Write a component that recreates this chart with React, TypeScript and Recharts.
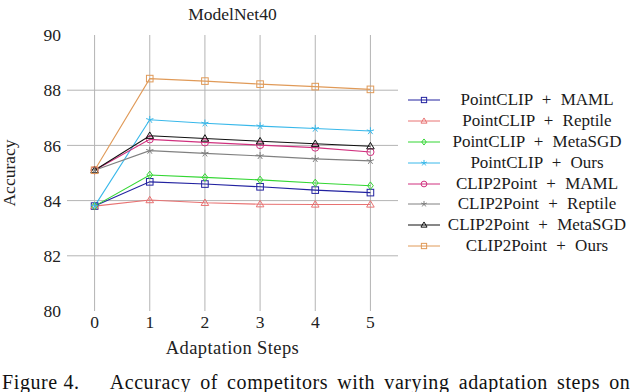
import React from 'react';
import { LineChart, Line, XAxis, YAxis, CartesianGrid } from 'recharts';

const steps = [0, 1, 2, 3, 4, 5];
const xTicks = [0, 1, 2, 3, 4, 5];
const yTicks = [80, 82, 84, 86, 88, 90];
const gridYValues = [82, 84, 86, 88];

const pointclipMaml = [83.8, 84.68, 84.6, 84.5, 84.38, 84.29];
const pointclipReptile = [83.8, 84.02, 83.92, 83.87, 83.86, 83.86];
const pointclipMetaSGD = [83.8, 84.93, 84.84, 84.75, 84.64, 84.54];
const pointclipOurs = [83.8, 86.93, 86.8, 86.7, 86.61, 86.52];
const clip2pointMaml = [85.1, 86.22, 86.11, 86.01, 85.92, 85.76];
const clip2pointReptile = [85.1, 85.81, 85.71, 85.62, 85.51, 85.44];
const clip2pointMetaSGD = [85.1, 86.35, 86.25, 86.15, 86.06, 85.97];
const clip2pointOurs = [85.1, 88.42, 88.33, 88.22, 88.13, 88.03];

const seriesNames = [
  'PointCLIP + MAML',
  'PointCLIP + Reptile',
  'PointCLIP + MetaSGD',
  'PointCLIP + Ours',
  'CLIP2Point + MAML',
  'CLIP2Point + Reptile',
  'CLIP2Point + MetaSGD',
  'CLIP2Point + Ours',
];
const seriesValues = [
  pointclipMaml,
  pointclipReptile,
  pointclipMetaSGD,
  pointclipOurs,
  clip2pointMaml,
  clip2pointReptile,
  clip2pointMetaSGD,
  clip2pointOurs,
];

type MarkerKind = 'square' | 'triangle' | 'diamond' | 'star' | 'circle';
const seriesStyle: { color: string; marker: MarkerKind }[] = [
  { color: '#2222a0', marker: 'square' },
  { color: '#e87272', marker: 'triangle' },
  { color: '#33d633', marker: 'diamond' },
  { color: '#38b8ea', marker: 'star' },
  { color: '#d0307e', marker: 'circle' },
  { color: '#808080', marker: 'star' },
  { color: '#111111', marker: 'triangle' },
  { color: '#e09a58', marker: 'square' },
];

const data = steps.map((s, i) => {
  const row: Record<string, number> = { step: s };
  seriesValues.forEach((vals, k) => {
    row['s' + k] = vals[i];
  });
  return row;
});

const FONT = '"Liberation Serif", "Times New Roman", serif';

function Marker({ kind, cx, cy, color, scale = 1 }: { kind: MarkerKind; cx: number; cy: number; color: string; scale?: number }) {
  const r = 3.3 * scale;
  const common = { fill: 'none', stroke: color, strokeWidth: 1 };
  if (kind === 'square') {
    return <rect x={cx - r} y={cy - r} width={2 * r} height={2 * r} {...common} />;
  }
  if (kind === 'triangle') {
    const h = 3.8 * scale;
    return <path d={`M${cx},${cy - h} L${cx + h},${cy + h * 0.7} L${cx - h},${cy + h * 0.7} Z`} {...common} />;
  }
  if (kind === 'diamond') {
    const h = 3.8 * scale;
    return <path d={`M${cx},${cy - h} L${cx + h * 0.75},${cy} L${cx},${cy + h} L${cx - h * 0.75},${cy} Z`} {...common} />;
  }
  if (kind === 'circle') {
    return <circle cx={cx} cy={cy} r={3.6 * scale} {...common} />;
  }
  const arms: string[] = [];
  for (let a = 0; a < 5; a++) {
    const ang = (-90 + a * 72) * (Math.PI / 180);
    arms.push(`M${cx},${cy} L${cx + Math.cos(ang) * 3.8 * scale},${cy + Math.sin(ang) * 3.8 * scale}`);
  }
  return <path d={arms.join(' ')} {...common} />;
}

function LegendBox() {
  return (
    <div
      style={{
        position: 'absolute',
        left: 400,
        top: 90,
        width: 240,
        fontFamily: FONT,
        fontSize: 17,
        color: '#1a1a1a',
      }}
    >
      {seriesNames.map((name, k) => (
        <div key={name} style={{ display: 'flex', alignItems: 'center', height: 20.8 }}>
          <svg width={42} height={20} style={{ flex: 'none' }}>
            <line x1={8} y1={10} x2={40} y2={10} stroke={seriesStyle[k].color} strokeWidth={1} />
            <Marker kind={seriesStyle[k].marker} cx={24} cy={10} color={seriesStyle[k].color} scale={0.8} />
          </svg>
          <div style={{ width: 190, textAlign: 'center', wordSpacing: 5, whiteSpace: 'nowrap' }}>{name}</div>
        </div>
      ))}
    </div>
  );
}

export default function App() {
  return (
    <div style={{ position: 'absolute', left: 0, top: 0, width: 640, height: 392, background: '#fff', overflow: 'hidden' }}>
      <div
        style={{
          position: 'absolute',
          left: 67,
          width: 331,
          top: 4,
          textAlign: 'center',
          fontFamily: FONT,
          fontSize: 17.5,
          color: '#222',
        }}
      >
        ModelNet40
      </div>
      <LineChart
        width={640}
        height={360}
        data={data}
        margin={{ top: 35, right: 242, left: 0, bottom: 0 }}
        style={{ fontFamily: FONT }}
      >
        <CartesianGrid
          stroke="#b4b4b4"
          strokeWidth={1}
          verticalValues={xTicks}
          horizontalValues={gridYValues}
        />
        <XAxis
          dataKey="step"
          type="number"
          domain={[-0.5, 5.5]}
          ticks={xTicks}
          allowDataOverflow
          axisLine={false}
          tickLine={false}
          tickSize={0}
          tickMargin={5}
          height={49}
          tick={{ fill: '#222', fontSize: 17.5, fontFamily: FONT }}
          label={{
            value: 'Adaptation Steps',
            position: 'insideBottom',
            offset: 6,
            fill: '#222',
            fontSize: 18.5,
            fontFamily: FONT,
            letterSpacing: 0.4,
          }}
        />
        <YAxis
          type="number"
          domain={[80, 90]}
          ticks={yTicks}
          allowDataOverflow
          axisLine={false}
          tickLine={false}
          tickSize={0}
          tickMargin={6}
          width={67}
          tick={{ fill: '#222', fontSize: 17.5, fontFamily: FONT }}
          label={{
            value: 'Accuracy',
            angle: -90,
            position: 'insideLeft',
            offset: 9,
            fill: '#222',
            fontSize: 17.5,
            fontFamily: FONT,
            style: { textAnchor: 'middle' },
          }}
        />
        {seriesNames.map((name, k) => (
          <Line
            key={name}
            name={name}
            dataKey={'s' + k}
            type="linear"
            stroke={seriesStyle[k].color}
            strokeWidth={1.1}
            isAnimationActive={false}
            dot={(p: any) => (
              <Marker
                key={`${k}-${p.index}`}
                kind={seriesStyle[k].marker}
                cx={p.cx}
                cy={p.cy}
                color={seriesStyle[k].color}
              />
            )}
            activeDot={false}
          />
        ))}
      </LineChart>
      <LegendBox />
      <div
        style={{
          position: 'absolute',
          left: 2,
          top: 371,
          whiteSpace: 'nowrap',
          fontFamily: FONT,
          fontSize: 20,
          letterSpacing: 0.6,
          lineHeight: '22px',
          color: '#111',
        }}
      >
        <span>Figure 4.</span>
        <span style={{ marginLeft: 30, wordSpacing: 3.5 }}>Accuracy of competitors with varying adaptation steps on</span>
      </div>
    </div>
  );
}
